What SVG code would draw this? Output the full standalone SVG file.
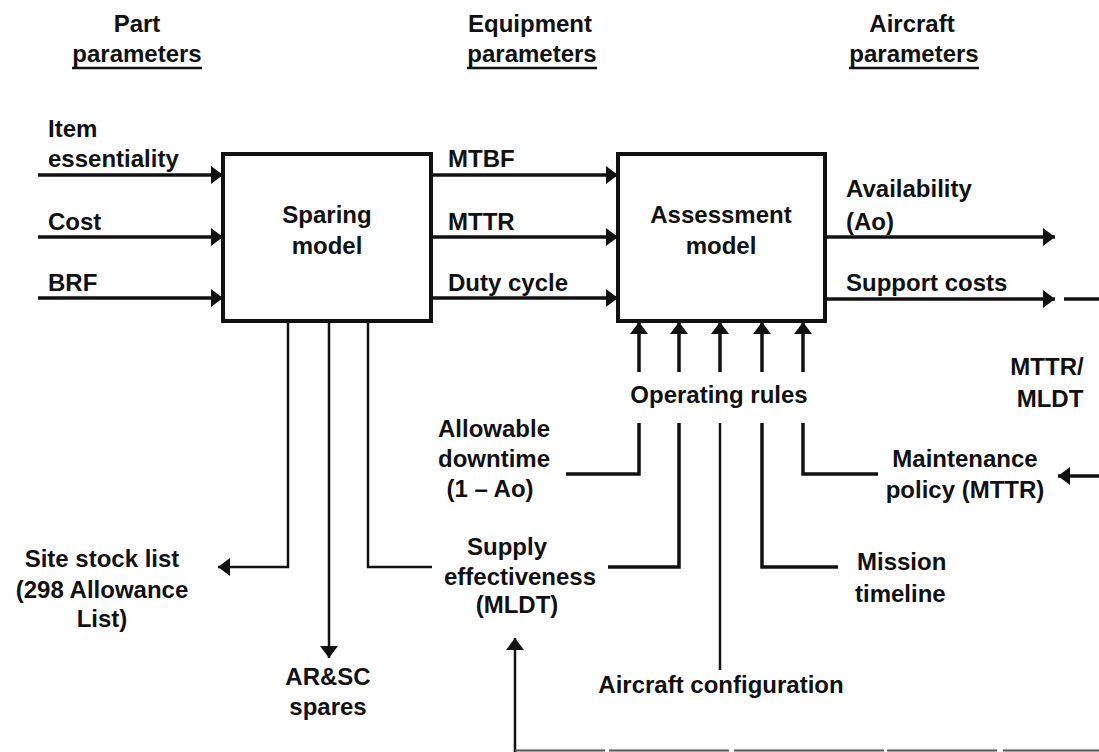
<svg xmlns="http://www.w3.org/2000/svg" width="1099" height="752" viewBox="0 0 1099 752">
<style>
text{font-family:"Liberation Sans",Arial,sans-serif;font-weight:bold;font-size:24px;fill:#111}
.m{text-anchor:middle}
.box{fill:#fff;stroke:#111;stroke-width:4}
.c{fill:none;stroke:#111;stroke-width:3.5}
.t{fill:none;stroke:#111;stroke-width:2.5}
.u{stroke:#111;stroke-width:2.5}
</style>
<defs>
<marker id="ah" viewBox="0 0 12 18" refX="12" refY="9" markerWidth="12" markerHeight="18" markerUnits="userSpaceOnUse" orient="auto">
<path d="M0,0 L12,9 L0,18 z" fill="#111"/>
</marker>
</defs>
<rect width="1099" height="752" fill="#fff"/>
<g id="headers">
<text class="m" x="137" y="32">Part</text>
<text class="m" x="137" y="62">parameters</text>
<line class="u" x1="72" y1="68" x2="202" y2="68"/>
<text class="m" x="530" y="32">Equipment</text>
<text class="m" x="532" y="62">parameters</text>
<line class="u" x1="467" y1="68" x2="597" y2="68"/>
<text class="m" x="912" y="32">Aircraft</text>
<text class="m" x="914" y="62">parameters</text>
<line class="u" x1="849" y1="68" x2="979" y2="68"/>
</g>
<g id="connectors">
<path class="c" d="M38,175 H223" marker-end="url(#ah)"/>
<path class="c" d="M38,237 H223" marker-end="url(#ah)"/>
<path class="c" d="M38,298 H223" marker-end="url(#ah)"/>
<path class="c" d="M431,175 H618" marker-end="url(#ah)"/>
<path class="c" d="M431,237 H618" marker-end="url(#ah)"/>
<path class="c" d="M431,298 H618" marker-end="url(#ah)"/>
<path class="c" d="M825,237 H1055" marker-end="url(#ah)"/>
<path class="c" d="M825,299 H1055" marker-end="url(#ah)"/>
<path class="c" d="M1064,299 H1099"/>
<path class="c" d="M639,372 V322" marker-end="url(#ah)"/>
<path class="c" d="M679,372 V322" marker-end="url(#ah)"/>
<path class="c" d="M720,372 V322" marker-end="url(#ah)"/>
<path class="c" d="M762,372 V322" marker-end="url(#ah)"/>
<path class="c" d="M803,372 V322" marker-end="url(#ah)"/>
<path class="c" d="M566,474 H639 V423"/>
<path class="c" d="M608,567 H679 V423"/>
<path class="t" d="M720,670 V423"/>
<path class="c" d="M838,567 H762 V423"/>
<path class="c" d="M878,474 H803 V423"/>
<path class="c" d="M1099,476 H1058" marker-end="url(#ah)"/>
<path class="t" d="M288,322 V567 H218" marker-end="url(#ah)"/>
<path class="t" d="M329,322 V658" marker-end="url(#ah)"/>
<path class="t" d="M368,322 V567 H432"/>
<path class="t" d="M515,752 V638" marker-end="url(#ah)"/>
<path d="M515,750.5 H1099" fill="none" stroke="#555" stroke-width="2" stroke-dasharray="90 4 120 5 150 3 110 6 200"/>
</g>
<g id="sparing-model">
<rect class="box" x="223" y="154" width="208" height="167"/>
<text class="m" x="327" y="223">Sparing</text>
<text class="m" x="327" y="254">model</text>
</g>
<g id="assessment-model">
<rect class="box" x="618" y="154" width="207" height="167"/>
<text class="m" x="721" y="223">Assessment</text>
<text class="m" x="721" y="254">model</text>
</g>
<g id="item-essentiality"><text x="48" y="137">Item</text><text x="48" y="167">essentiality</text></g>
<g id="cost"><text x="48" y="230">Cost</text></g>
<g id="brf"><text x="48" y="291">BRF</text></g>
<g id="mtbf"><text x="448" y="167">MTBF</text></g>
<g id="mttr"><text x="448" y="230">MTTR</text></g>
<g id="duty-cycle"><text x="448" y="291">Duty cycle</text></g>
<g id="availability"><text x="846" y="197">Availability</text><text x="846" y="230">(Ao)</text></g>
<g id="support-costs"><text x="846" y="291">Support costs</text></g>
<g id="operating-rules"><text class="m" x="719" y="403">Operating rules</text></g>
<g id="mttr-mldt"><text class="m" x="1047" y="375">MTTR/</text><text class="m" x="1050" y="407">MLDT</text></g>
<g id="allowable-downtime"><text class="m" x="494" y="437">Allowable</text><text class="m" x="494" y="467">downtime</text><text class="m" x="490" y="497">(1 – Ao)</text></g>
<g id="maintenance-policy"><text class="m" x="965" y="467">Maintenance</text><text class="m" x="965" y="498">policy (MTTR)</text></g>
<g id="site-stock-list"><text class="m" x="102" y="567">Site stock list</text><text class="m" x="102" y="598">(298 Allowance</text><text class="m" x="102" y="627">List)</text></g>
<g id="supply-effectiveness"><text class="m" x="507" y="555">Supply</text><text class="m" x="520" y="585">effectiveness</text><text class="m" x="517" y="613">(MLDT)</text></g>
<g id="mission-timeline"><text x="857" y="570">Mission</text><text x="855" y="602">timeline</text></g>
<g id="aircraft-configuration"><text class="m" x="721" y="693">Aircraft configuration</text></g>
<g id="arsc-spares"><text class="m" x="328" y="685">AR&amp;SC</text><text class="m" x="328" y="715">spares</text></g>
</svg>
